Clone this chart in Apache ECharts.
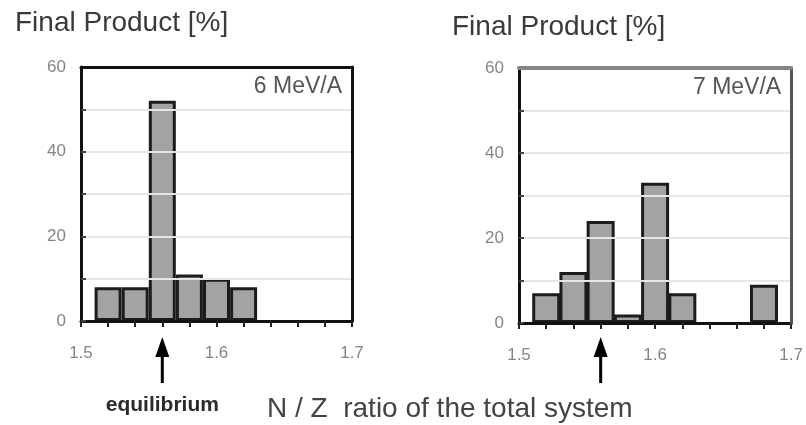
<!DOCTYPE html>
<html>
<head>
<meta charset="utf-8">
<script src="https://cdn.jsdelivr.net/npm/echarts@6/dist/echarts.min.js"></script>
<style>
html,body{margin:0;padding:0;background:#fff;}
#chart{width:806px;height:425px;}
</style>
</head>
<body>
<div id="chart"></div>
<script>
const leftBins = [1.52, 1.54, 1.56, 1.58, 1.60, 1.62];
const leftValues = [8, 8, 52, 11, 10, 8];
const rightBins = [1.52, 1.54, 1.56, 1.58, 1.60, 1.62, 1.68];
const rightValues = [7, 12, 24, 2, 33, 7, 9];
const xTickLabels = ['1.5', '1.6', '1.7'];
const yTickLabels = ['0', '20', '40', '60'];
const energies = ['6 MeV/A', '7 MeV/A'];
const equilibrium = [1.56, 1.56];
const panelTitle = 'Final Product [%]';
const xTitle = 'N / Z  ratio of the total system';
const arrowLabel = 'equilibrium';

const FONT = '"Liberation Sans", Arial, sans-serif';

function xFmt(v) {
  const s = v.toFixed(1);
  if (Math.abs(v * 10 - Math.round(v * 10)) < 1e-6 && xTickLabels.indexOf(s) >= 0) return s;
  return '';
}
function yFmt(v) {
  const s = String(Math.round(v));
  return yTickLabels.indexOf(s) >= 0 ? s : '';
}

const chart = echarts.init(document.getElementById('chart'), null, {renderer: 'canvas'});

function xAxisCfg(gi, margin) {
  return {
    type: 'value', gridIndex: gi, min: 1.5, max: 1.7, interval: 0.02, z: 5,
    axisLine: {show: true, onZero: false, lineStyle: {color: '#111', width: 3}},
    axisTick: {show: true, inside: false, length: 6, lineStyle: {color: '#222', width: 2}},
    axisLabel: {formatter: xFmt, color: '#858585', fontSize: 17, fontFamily: FONT, margin: margin,
      showMinLabel: true, showMaxLabel: true},
    splitLine: {show: false}
  };
}
function yAxisCfg(gi) {
  return {
    type: 'value', gridIndex: gi, min: 0, max: 60, interval: 10, z: 5,
    axisLine: {show: true, lineStyle: {color: '#111', width: 3}},
    axisTick: {show: true, inside: true, length: 5, lineStyle: {color: '#444', width: 2}},
    axisLabel: {formatter: yFmt, color: '#858585', fontSize: 17, fontFamily: FONT, margin: 15},
    splitLine: {show: true, lineStyle: {color: '#e6e6e6', width: 2}}
  };
}
function frameX(gi, color, width) {
  return {
    type: 'value', gridIndex: gi, min: 1.5, max: 1.7, position: 'top', z: 6,
    axisLine: {show: true, onZero: false, lineStyle: {color: color, width: width}},
    axisTick: {show: false}, axisLabel: {show: false}, splitLine: {show: false}
  };
}
function frameY(gi, color, width) {
  return {
    type: 'value', gridIndex: gi, min: 0, max: 60, position: 'right', z: 6,
    axisLine: {show: true, onZero: false, lineStyle: {color: color, width: width}},
    axisTick: {show: false}, axisLabel: {show: false}, splitLine: {show: false}
  };
}
function barSeries(gi, bins, vals, bw) {
  return {
    type: 'bar', xAxisIndex: gi, yAxisIndex: gi, barWidth: bw,
    data: bins.map((b, i) => [b, vals[i]]),
    itemStyle: {color: '#a3a3a3', borderColor: '#1c1c1c', borderWidth: 3},
    z: 3
  };
}

chart.setOption({
  animation: false,
  backgroundColor: '#fff',
  grid: [
    {left: 81, right: 454, top: 67, bottom: 104},
    {left: 519, right: 9, top: 68, bottom: 102}
  ],
  xAxis: [xAxisCfg(0, 24), xAxisCfg(1, 24), frameX(0, '#111', 3), frameX(1, '#858585', 4)],
  yAxis: [yAxisCfg(0), yAxisCfg(1), frameY(0, '#111', 3), frameY(1, '#555', 3)],
  series: [barSeries(0, leftBins, leftValues, 27), barSeries(1, rightBins, rightValues, 28)]
});

function buildGraphics() {
  const g = [];
  const titles = [{x: 15, y: 23}, {x: 452, y: 27}];
  titles.forEach(t => g.push({type: 'text', x: t.x, y: t.y,
    style: {text: panelTitle, font: '28px ' + FONT, fill: '#3a3a3a', verticalAlign: 'middle'}}));
  [0, 1].forEach(i => {
    const grid = chart.getModel().getComponent('grid', i).coordinateSystem.getRect();
    g.push({type: 'text', x: grid.x + grid.width - 10, y: grid.y + 20,
      style: {text: energies[i], font: '23px ' + FONT, fill: '#555', align: 'right', verticalAlign: 'middle'}});
    const px = chart.convertToPixel({xAxisIndex: i}, equilibrium[i]);
    const tipY = 337, headY = 357, tailY = 383;
    g.push({type: 'polygon', shape: {points: [[px, tipY], [px - 7, headY], [px + 7, headY]]}, style: {fill: '#000'}});
    g.push({type: 'line', shape: {x1: px, y1: headY - 2, x2: px, y2: tailY}, style: {stroke: '#000', lineWidth: 3}});
    if (i === 0) {
      g.push({type: 'text', x: px, y: 405,
        style: {text: arrowLabel, font: 'bold 21px ' + FONT, fill: '#2a2a2a', align: 'center', verticalAlign: 'middle'}});
    }
  });
  g.push({type: 'text', x: 267, y: 409,
    style: {text: xTitle, font: '28px ' + FONT, fill: '#444', verticalAlign: 'middle'}});
  return g;
}
chart.setOption({graphic: buildGraphics()});
</script>
</body>
</html>
